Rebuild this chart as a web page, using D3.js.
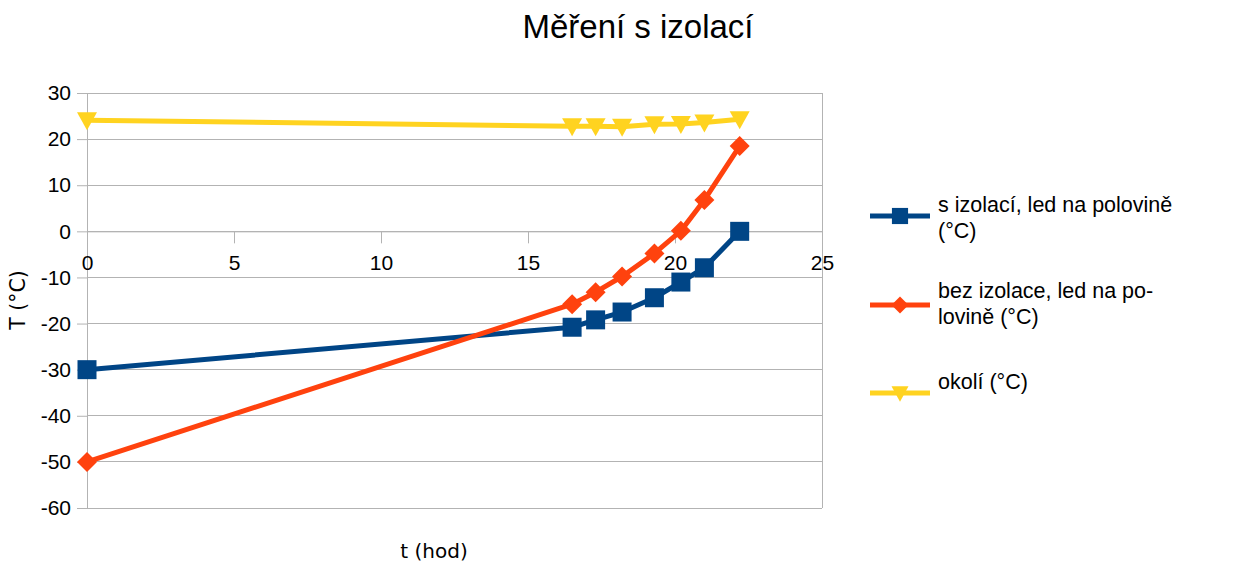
<!DOCTYPE html>
<html><head><meta charset="utf-8">
<script src="https://cdn.jsdelivr.net/npm/d3@7"></script>
<style>body{margin:0;background:#fff}svg{display:block;font-family:"Liberation Sans",Arial,sans-serif}</style>
</head><body>
<svg id="c" width="1236" height="565"></svg>
<script>
const hours = [0, 16.5, 17.3, 18.2, 19.3, 20.2, 21.0, 22.2];
const sIzolaci = [-30, -20.8, -19.2, -17.5, -14.4, -11.0, -7.9, 0];
const bezIzolace = [-50, -15.8, -13.2, -9.8, -4.8, 0.1, 6.8, 18.5];
const okoli = [24.1, 22.8, 22.8, 22.7, 23.2, 23.3, 23.6, 24.3];
const xTicks = [0, 5, 10, 15, 20, 25];
const yTicks = [30, 20, 10, 0, -10, -20, -30, -40, -50, -60];
const seriesNames = ["s izolací, led na polovině (°C)", "bez izolace, led na polovině (°C)", "okolí (°C)"];
const legendLines = [["s izolací, led na polovině", "(°C)"], ["bez izolace, led na po-", "lovině (°C)"], ["okolí (°C)"]];
const colors = ["#004586", "#ff420e", "#ffd320"];

const svg = d3.select("#c");
const x = d3.scaleLinear().domain([0, 25]).range([87, 822]);
const y = d3.scaleLinear().domain([-60, 30]).range([508, 93]);
const grid = "#b3b3b3";
const fmt = d => String(d);

svg.append("g").selectAll("line").data(yTicks).join("line")
  .attr("x1", x(0)).attr("x2", x(25)).attr("y1", d => y(d)).attr("y2", d => y(d))
  .attr("stroke", grid).attr("stroke-width", 1).attr("shape-rendering", "crispEdges");
svg.append("line").attr("x1", x(25)).attr("x2", x(25)).attr("y1", y(30)).attr("y2", y(-60))
  .attr("stroke", grid).attr("shape-rendering", "crispEdges");

const yAxis = svg.append("g").attr("transform", `translate(${x(0)},0)`)
  .call(d3.axisLeft(y).tickValues(yTicks).tickFormat(fmt).tickSize(10).tickPadding(6));
yAxis.select(".domain").attr("stroke", grid);
yAxis.selectAll(".tick line").attr("stroke", grid);
yAxis.selectAll("text").attr("font-size", 21).attr("fill", "#000").attr("font-family", "Liberation Sans, Arial, sans-serif");

const xAxis = svg.append("g").attr("transform", `translate(0,${y(0)})`)
  .call(d3.axisBottom(x).tickValues(xTicks).tickFormat(fmt).tickSize(12).tickPadding(12));
xAxis.select(".domain").attr("stroke", grid);
xAxis.selectAll(".tick line").attr("stroke", grid);
xAxis.selectAll("text").attr("font-size", 21).attr("fill", "#000").attr("font-family", "Liberation Sans, Arial, sans-serif");

const data = [sIzolaci, bezIzolace, okoli];
const line = d3.line().x((d, i) => x(hours[i])).y(d => y(d));

function marker(g, k, cx, cy, sc = 1) {
  let p;
  if (k === 0) { const h = 9.5 * sc; p = `M${-h},${-h}H${h}V${h}H${-h}Z`; }
  else if (k === 1) { const h = 10 * sc; p = `M0,${-h}L${h},0L0,${h}L${-h},0Z`; }
  else { const w = 10 * sc, t = 8 * sc; p = `M${-w},${-t}H${w}L0,${t + 2}Z`; }
  g.append("path").attr("d", p).attr("transform", `translate(${cx},${cy})`).attr("fill", colors[k]);
}

data.forEach((vals, k) => {
  const g = svg.append("g");
  g.append("path").datum(vals).attr("d", line).attr("fill", "none")
    .attr("stroke", colors[k]).attr("stroke-width", 5).attr("stroke-linejoin", "round");
  vals.forEach((v, i) => marker(g, k, x(hours[i]), y(v)));
});

svg.append("text").attr("x", 638).attr("y", 38).attr("text-anchor", "middle")
  .attr("font-size", 33).attr("fill", "#000").text("Měření s izolací");
svg.append("text").attr("x", 434).attr("y", 558).attr("text-anchor", "middle")
  .attr("font-size", 20).attr("font-family", "DejaVu Sans").attr("fill", "#000").text("t (hod)");
svg.append("text").attr("transform", "translate(25,300) rotate(-90)").attr("text-anchor", "middle")
  .attr("font-size", 20.5).attr("font-family", "DejaVu Sans").attr("fill", "#000").text("T (°C)");

const legY = [216, 305, 393];
const legT = [212, 298, 389];
legendLines.forEach((lines, k) => {
  const g = svg.append("g");
  g.append("line").attr("x1", 870).attr("x2", 930).attr("y1", legY[k]).attr("y2", legY[k])
    .attr("stroke", colors[k]).attr("stroke-width", 5);
  marker(g, k, 900, legY[k], 0.85);
  const t = g.append("text").attr("x", 938).attr("y", legT[k]).attr("font-size", 21.5).attr("fill", "#000");
  lines.forEach((l, j) => t.append("tspan").attr("x", 938).attr("dy", j === 0 ? 0 : 26).text(l));
});
</script>
</body></html>
